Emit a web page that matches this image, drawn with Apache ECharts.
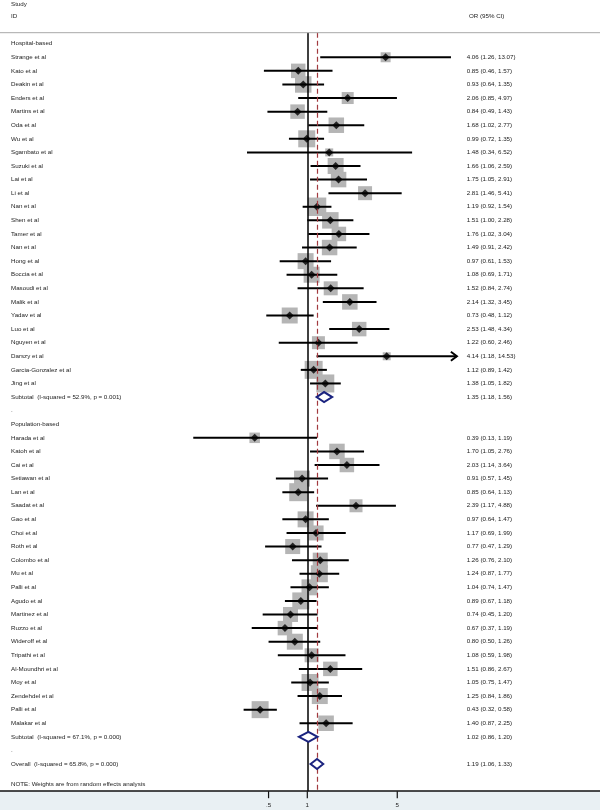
<!DOCTYPE html>
<html>
<head>
<meta charset="utf-8">
<script src="https://cdn.jsdelivr.net/npm/echarts@6/dist/echarts.min.js"></script>
<style>html,body{margin:0;padding:0;background:#fff}#c{width:600px;height:810px}</style>
</head>
<body>
<div id="c"></div>
<script>
// ---------- data ----------
const hospNames = ["Strange et al","Kato et al","Deakin et al","Enders et al","Martins et al","Oda et al","Wu et al","Sgambato et al","Suzuki et al","Lai et al","Li et al","Nan et al","Shen et al","Tamer et al","Nan et al","Hong et al","Boccia et al","Masoudi et al","Malik et al","Yadav et al","Luo et al","Nguyen et al","Darszy et al","Garcia-Gonzalez et al","Jing et al"];
const hospOR = [4.06,0.85,0.93,2.06,0.84,1.68,0.99,1.48,1.66,1.75,2.81,1.19,1.51,1.76,1.49,0.97,1.08,1.52,2.14,0.73,2.53,1.22,4.14,1.12,1.38];
const hospLo = [1.26,0.46,0.64,0.85,0.49,1.02,0.72,0.34,1.06,1.05,1.46,0.92,1.00,1.02,0.91,0.61,0.69,0.84,1.32,0.48,1.48,0.60,1.18,0.89,1.05];
const hospHi = [13.07,1.57,1.35,4.97,1.43,2.77,1.35,6.52,2.59,2.91,5.41,1.54,2.28,3.04,2.42,1.53,1.71,2.74,3.45,1.12,4.34,2.46,14.53,1.42,1.82];
const hospW  = [0.92,1.94,2.51,1.33,1.94,2.22,2.67,0.59,2.36,2.22,1.81,3.16,2.51,1.94,2.22,2.36,2.36,1.81,2.22,2.36,1.94,1.56,0.59,2.99,2.99];

const popNames = ["Harada et al","Katoh et al","Cai et al","Setiawan et al","Lan et al","Saadat et al","Gao et al","Choi et al","Roth et al","Colombo et al","Mu et al","Palli et al","Agudo et al","Martinez et al","Ruzzo et al","Wideroff et al","Tripathi et al","Al-Moundhri et al","Moy et al","Zendehdel et al","Palli et al","Malakar et al"];
const popOR = [0.39,1.70,2.03,0.91,0.85,2.39,0.97,1.17,0.77,1.26,1.24,1.04,0.89,0.74,0.67,0.80,1.08,1.51,1.05,1.25,0.43,1.40];
const popLo = [0.13,1.05,1.14,0.57,0.64,1.17,0.64,0.69,0.47,0.76,0.87,0.74,0.67,0.45,0.37,0.50,0.59,0.86,0.75,0.84,0.32,0.87];
const popHi = [1.19,2.76,3.64,1.45,1.13,4.88,1.47,1.99,1.29,2.10,1.77,1.47,1.18,1.20,1.19,1.26,1.98,2.67,1.47,1.86,0.58,2.25];
const popW  = [1.02,2.22,1.94,2.36,2.99,1.56,2.36,2.08,2.08,2.08,2.67,2.36,2.67,2.08,1.94,2.36,1.81,1.94,2.67,2.36,2.67,2.22];

const subHosp = {or:1.35, lo:1.18, hi:1.56, label:"Subtotal  (I-squared = 52.9%, p = 0.001)"};
const subPop  = {or:1.02, lo:0.86, hi:1.20, label:"Subtotal  (I-squared = 67.1%, p = 0.000)"};
const overall = {or:1.19, lo:1.06, hi:1.33, label:"Overall  (I-squared = 65.8%, p = 0.000)"};
const groupLabels = ["Hospital-based","Population-based"];
const noteText = "NOTE: Weights are from random effects analysis";
const tickValues = [0.5, 1, 5];
const tickLabels = [".5", "1", "5"];
const ARROW_LIMIT = 14;

// ---------- build rows ----------
const fmt = (o,l,h)=> o.toFixed(2)+" ("+l.toFixed(2)+", "+h.toFixed(2)+")";
const textRows = [], studies = [], pooledRows = [];
let r = 0;
textRows.push({row:r, left:groupLabels[0], right:""}); r++;
hospNames.forEach((n,i)=>{ textRows.push({row:r,left:n,right:fmt(hospOR[i],hospLo[i],hospHi[i])}); studies.push([hospOR[i],hospLo[i],hospHi[i],hospW[i],r]); r++; });
textRows.push({row:r,left:subHosp.label,right:fmt(subHosp.or,subHosp.lo,subHosp.hi)}); pooledRows.push([subHosp.lo,subHosp.or,subHosp.hi,r]); r++;
textRows.push({row:r,left:".",right:""}); r++;
textRows.push({row:r,left:groupLabels[1],right:""}); r++;
popNames.forEach((n,i)=>{ textRows.push({row:r,left:n,right:fmt(popOR[i],popLo[i],popHi[i])}); studies.push([popOR[i],popLo[i],popHi[i],popW[i],r]); r++; });
textRows.push({row:r,left:subPop.label,right:fmt(subPop.or,subPop.lo,subPop.hi)}); pooledRows.push([subPop.lo,subPop.or,subPop.hi,r]); r++;
textRows.push({row:r,left:".",right:""}); r++;
textRows.push({row:r,left:overall.label,right:fmt(overall.or,overall.lo,overall.hi)}); pooledRows.push([overall.lo,overall.or,overall.hi,r]); r++;
textRows.push({row:r+0.47,left:noteText,right:""});

const FONT = '"Liberation Sans", Arial, sans-serif';
const FS = 6.2;
const TXT = '#222';

const chart = echarts.init(document.getElementById('c'), null, {renderer:'canvas'});
const option = {
  animation:false,
  backgroundColor:'#fff',
  grid:{left:150, right:140, top:32.8, bottom:18.8, containLabel:false},
  xAxis:{type:'log', logBase:10, min:0.05995, max:15.36, show:false},
  yAxis:{type:'value', inverse:true, min:-0.8, max:55, show:false},
  graphic:[
    {type:'rect', z:-10, shape:{x:0,y:791,width:600,height:19}, style:{fill:'#e9f0f3'}},
    {type:'line', z:100, shape:{x1:0,y1:791,x2:600,y2:791}, style:{stroke:'#111',lineWidth:1.5}},
    {type:'line', z:100, shape:{x1:0,y1:32.7,x2:600,y2:32.7}, style:{stroke:'#a8a8a8',lineWidth:1}},
    {type:'text', style:{x:11,y:4,text:'Study',font:FS+'px '+FONT,fill:TXT,textVerticalAlign:'middle'}},
    {type:'text', style:{x:11,y:16,text:'ID',font:FS+'px '+FONT,fill:TXT,textVerticalAlign:'middle'}},
    {type:'text', style:{x:469,y:16,text:'OR (95% CI)',font:FS+'px '+FONT,fill:TXT,textVerticalAlign:'middle'}}
  ],
  series:[
    { // weight boxes
      type:'custom', clip:false, z:2,
      data: studies.map(s=>[s[0], s[4], s[3]]),
      renderItem:(p,api)=>{
        const c = api.coord([api.value(0), api.value(1)]);
        const s = 10.4*Math.sqrt(api.value(2));
        return {type:'rect', shape:{x:c[0]-s/2,y:c[1]-s/2,width:s,height:s}, style:{fill:'#b5b5b5'}};
      }
    },
    { // CI lines
      type:'custom', clip:false, z:3,
      data: studies.map(s=>[s[1], s[2], s[4]]),
      renderItem:(p,api)=>{
        const a = api.coord([api.value(0), api.value(2)]);
        const b = api.coord([api.value(1), api.value(2)]);
        const children = [{type:'line', shape:{x1:a[0],y1:a[1],x2:b[0],y2:b[1]}, style:{stroke:'#000',lineWidth:2}}];
        if (api.value(1) > ARROW_LIMIT) {
          children.push({type:'polyline', shape:{points:[[b[0]-6,b[1]-4.5],[b[0],b[1]],[b[0]-6,b[1]+4.5]]}, style:{stroke:'#000',lineWidth:2,fill:null}});
        }
        return {type:'group', children};
      }
    },
    { // point estimates
      type:'scatter', z:4, symbol:'diamond', symbolSize:[8,8],
      itemStyle:{color:'#000'},
      data: studies.map(s=>[s[0], s[4]]),
      markLine:{
        silent:true, symbol:'none', label:{show:false},
        data:[
          {xAxis:1, lineStyle:{color:'#000', width:1.5, type:'solid'}},
          {xAxis:overall.or, lineStyle:{color:'#a23a3f', width:1.2, type:[5,3]}}
        ]
      }
    },
    { // pooled diamonds
      type:'custom', clip:false, z:5,
      data: pooledRows,
      renderItem:(p,api)=>{
        const l = api.coord([api.value(0), api.value(3)]);
        const m = api.coord([api.value(1), api.value(3)]);
        const h = api.coord([api.value(2), api.value(3)]);
        return {type:'polygon', shape:{points:[[l[0],l[1]],[m[0],m[1]-5],[h[0],h[1]],[m[0],m[1]+5]]}, style:{stroke:'#1b237f',lineWidth:2,fill:'#fff'}};
      }
    },
    { // row texts
      type:'custom', clip:false, z:6,
      data: textRows.map(t=>[1, t.row]),
      renderItem:(p,api)=>{
        const t = textRows[p.dataIndex];
        const y = api.coord([1, api.value(1)])[1];
        const ch = [{type:'text', style:{x:11,y:y,text:t.left,font:FS+'px '+FONT,fill:TXT,textVerticalAlign:'middle'}}];
        if (t.right) ch.push({type:'text', style:{x:466.7,y:y,text:t.right,font:FS+'px '+FONT,fill:TXT,textVerticalAlign:'middle'}});
        return {type:'group', children:ch};
      }
    },
    { // axis ticks
      type:'custom', clip:false, z:7,
      data: tickValues.map(v=>[v, 55]),
      renderItem:(p,api)=>{
        const c = api.coord([api.value(0), api.value(1)]);
        return {type:'group', children:[
          {type:'line', shape:{x1:c[0],y1:c[1],x2:c[0],y2:c[1]+7}, style:{stroke:'#111',lineWidth:1.2}},
          {type:'text', style:{x:c[0],y:c[1]+14.5,text:tickLabels[p.dataIndex],font:FS+'px '+FONT,fill:TXT,textAlign:'center',textVerticalAlign:'middle'}}
        ]};
      }
    }
  ]
};
chart.setOption(option);
</script>
</body>
</html>
